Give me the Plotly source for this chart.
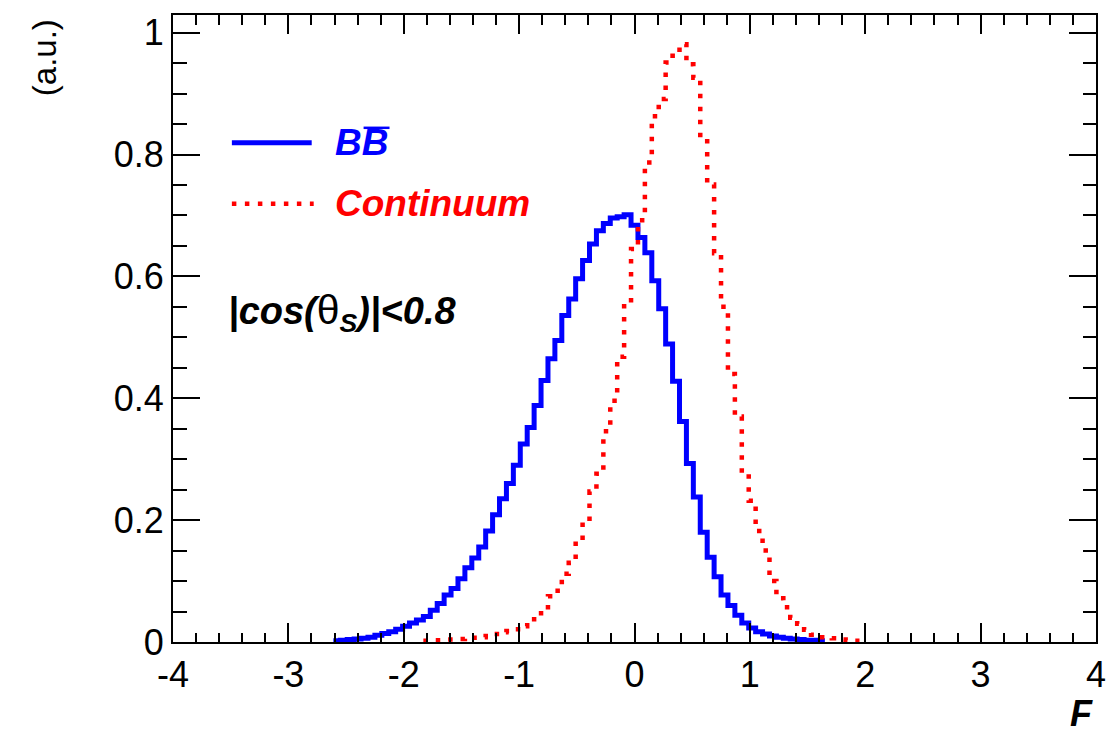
import plotly.graph_objects as go

# Histogram binning: 0.06-wide bins, first edge at -2.97
BIN_LO = -2.97
BIN_W = 0.06

# BBbar sample, normalised contents of bins 6..76
BB_FIRST_BIN = 6
BB_VALUES = [
    0.002, 0.003, 0.004, 0.005, 0.006, 0.008, 0.011, 0.014, 0.017, 0.021,
    0.026, 0.031, 0.036, 0.042, 0.052, 0.063, 0.077, 0.088, 0.104, 0.122,
    0.138, 0.156, 0.182, 0.209, 0.235, 0.260, 0.290, 0.325, 0.352, 0.388,
    0.429, 0.465, 0.495, 0.536, 0.563, 0.596, 0.626, 0.653, 0.675, 0.687,
    0.696, 0.698, 0.701, 0.684, 0.664, 0.639, 0.593, 0.547, 0.489, 0.428,
    0.362, 0.293, 0.238, 0.180, 0.139, 0.107, 0.077, 0.060, 0.044, 0.031,
    0.023, 0.017, 0.013, 0.010, 0.008, 0.006, 0.005, 0.004, 0.003, 0.003,
    0.002,
]

# Continuum sample, normalised contents of bins 19..81
CONT_FIRST_BIN = 19
CONT_VALUES = [
    0.002, 0.003, 0.003, 0.004, 0.004, 0.005, 0.006, 0.007, 0.008, 0.010,
    0.013, 0.016, 0.018, 0.021, 0.026, 0.031, 0.042, 0.051, 0.075, 0.084,
    0.112, 0.130, 0.167, 0.198, 0.247, 0.276, 0.346, 0.396, 0.468, 0.556,
    0.645, 0.692, 0.787, 0.863, 0.891, 0.951, 0.962, 0.981, 0.948, 0.926,
    0.828, 0.751, 0.638, 0.550, 0.440, 0.370, 0.277, 0.232, 0.182, 0.150,
    0.100, 0.072, 0.057, 0.040, 0.030, 0.020, 0.012, 0.008, 0.007, 0.006,
    0.004, 0.003, 0.002,
]

X_TICKS = [-4, -3, -2, -1, 0, 1, 2, 3, 4]
X_TICK_LABELS = ["-4", "-3", "-2", "-1", "0", "1", "2", "3", "4"]
Y_TICKS = [0, 0.2, 0.4, 0.6, 0.8, 1.0]
Y_TICK_LABELS = ["0", "0.2", "0.4", "0.6", "0.8", "1"]

BLUE = "#0000ff"
RED = "#ff0000"
FONT = "Liberation Sans"

W, H = 1118, 746
ML, MR, MT, MB = 173, 20, 14, 104


def px_x(px):
    return (px - ML) / (W - ML - MR)


def px_y(py):
    return (H - MB - py) / (H - MT - MB)


def step_outline(first_bin, values):
    edges = [BIN_LO + BIN_W * (first_bin + i) for i in range(len(values) + 1)]
    return edges, list(values) + [values[-1]]


fig = go.Figure()

bx, by = step_outline(BB_FIRST_BIN, BB_VALUES)
fig.add_trace(go.Scatter(
    x=bx, y=by, mode="lines", line=dict(color=BLUE, width=5, shape="hv"),
    name="BB", showlegend=False, hoverinfo="skip",
))

cx, cy = step_outline(CONT_FIRST_BIN, CONT_VALUES)
fig.add_trace(go.Scatter(
    x=cx, y=cy, mode="lines",
    line=dict(color=RED, width=4.5, shape="hv", dash="4.5px,8.5px"),
    name="Continuum", showlegend=False, hoverinfo="skip",
))

# Legend keys
fig.add_shape(type="line", xref="paper", yref="paper",
              x0=px_x(232), x1=px_x(312), y0=px_y(142), y1=px_y(142),
              line=dict(color=BLUE, width=5))
fig.add_shape(type="line", xref="paper", yref="paper",
              x0=px_x(232), x1=px_x(314), y0=px_y(203), y1=px_y(203),
              line=dict(color=RED, width=4.5, dash="4.5px,8.5px"))

label_font = dict(family=FONT, size=37, weight="bold", style="italic")
fig.add_annotation(xref="paper", yref="paper", x=px_x(333), y=px_y(142),
                   text="BB", showarrow=False, xanchor="left", yanchor="middle",
                   font=dict(label_font, color=BLUE))
# bar over the second B
fig.add_shape(type="line", xref="paper", yref="paper",
              x0=px_x(364), x1=px_x(390), y0=px_y(127), y1=px_y(127),
              line=dict(color=BLUE, width=2.5))
fig.add_annotation(xref="paper", yref="paper", x=px_x(333), y=px_y(203),
                   text="Continuum", showarrow=False, xanchor="left", yanchor="middle",
                   font=dict(label_font, color=RED))
fig.add_annotation(
    xref="paper", yref="paper", x=px_x(226), y=px_y(312),
    text="|cos(<span style='font-weight:normal;font-style:normal;font-size:41px'>θ</span>"
         "<sub>S</sub>)|<0.8",
    showarrow=False, xanchor="left", yanchor="middle",
    font=dict(family=FONT, size=38, weight="bold", style="italic", color="black"))

# Axis titles
fig.add_annotation(xref="paper", yref="paper", x=px_x(45), y=px_y(57),
                   text="(a.u.)", showarrow=False, textangle=-90,
                   xanchor="center", yanchor="middle",
                   font=dict(family=FONT, size=33, color="black"))
fig.add_annotation(xref="paper", yref="paper", x=px_x(1097), y=px_y(714),
                   text="F", showarrow=False, xanchor="right", yanchor="middle",
                   font=dict(family=FONT, size=36, weight="bold", style="italic",
                             color="black"))

axis_common = dict(
    ticks="inside", tickcolor="black", tickwidth=1.5,
    showline=True, linecolor="black", linewidth=2, mirror="ticks",
    showgrid=False, zeroline=False,
    tickfont=dict(family=FONT, size=36, color="black"),
)

fig.update_layout(
    width=W, height=H,
    margin=dict(l=ML, r=MR, t=MT, b=MB),
    paper_bgcolor="white", plot_bgcolor="white",
    xaxis=dict(axis_common, range=[-4, 4], tickmode="array",
               tickvals=X_TICKS, ticktext=X_TICK_LABELS, ticklen=19,
               minor=dict(ticks="inside", dtick=0.2, tick0=-4, ticklen=9.5,
                          tickwidth=1.5, tickcolor="black", showgrid=False)),
    yaxis=dict(axis_common, range=[0, 1.029], tickmode="array",
               tickvals=Y_TICKS, ticktext=Y_TICK_LABELS, ticklen=27,
               minor=dict(ticks="inside", dtick=0.05, tick0=0, ticklen=13.5,
                          tickwidth=1.5, tickcolor="black", showgrid=False)),
    showlegend=False,
)

fig.write_html("out.html")
